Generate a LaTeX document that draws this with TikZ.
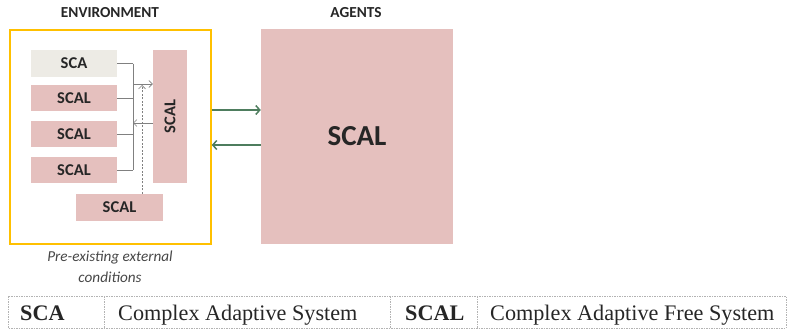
\documentclass[tikz,border=0pt]{standalone}
\usepackage{fontspec}
\setmainfont{Liberation Serif}
\newfontfamily\carlitofont{Carlito}
\usetikzlibrary{arrows.meta}
\definecolor{pinkfill}{RGB}{229,192,190}
\definecolor{scafill}{RGB}{237,235,229}
\definecolor{envyellow}{RGB}{255,192,0}
\definecolor{arrgreen}{RGB}{78,125,94}
\definecolor{linegray}{RGB}{128,128,128}
\definecolor{txt}{RGB}{38,38,38}
\tikzset{
  box/.style={fill=pinkfill, draw=none, inner sep=0pt, text=txt, font=\carlitofont\bfseries\fontsize{16.5}{18}\selectfont},
  head/.style={text=txt, font=\carlitofont\bfseries\fontsize{15.3}{17}\selectfont},
  note/.style={text=txt!85, font=\carlitofont\itshape\fontsize{15.2}{17}\selectfont},
  bracket/.style={draw=linegray, line width=0.9pt},
  thin/.style={draw=linegray, line width=0.6pt, -{Straight Barb[length=3.5pt,width=7pt]}},
  garrow/.style={draw=arrgreen, line width=1.5pt, -{Straight Barb[length=4pt,width=9pt]}},
  tab/.style={draw=linegray!60, line width=0.5pt, dash pattern=on 1.5pt off 1pt},
  tabtxt/.style={anchor=base west, inner sep=0pt, text=txt, font=\fontsize{22.2}{25}\selectfont}
}
\begin{document}
\begin{tikzpicture}[x=1pt,y=-1pt]
\useasboundingbox (0,0) rectangle (787,332);
% environment frame
\node[draw=envyellow, line width=1.5pt, minimum width=201pt, minimum height=214pt, inner sep=0pt] (env) at (110.5,137) {};
\node[head] (envlab) at (110,13) {ENVIRONMENT};
\node[head] (aglab) at (356,13) {AGENTS};
% boxes
\node[box, fill=scafill, minimum width=86pt, minimum height=27pt] (sca) at (74,63.5) {SCA};
\node[box, minimum width=86pt, minimum height=26pt] (s2) at (74,98) {SCAL};
\node[box, minimum width=86pt, minimum height=26pt] (s3) at (74,134) {SCAL};
\node[box, minimum width=86pt, minimum height=26pt] (s4) at (74,170) {SCAL};
\node[box, minimum width=34pt, minimum height=133pt] (vs) at (170,116.5) {};
\node[box, rotate=90] (vstxt) at (vs.center) {SCAL};
\node[box, minimum width=87pt, minimum height=27pt] (bot) at (119.5,207.5) {SCAL};
\node[box, minimum width=192pt, minimum height=215pt, font=\carlitofont\bfseries\fontsize{29}{32}\selectfont] (ag) at (357,136.5) {SCAL};
% bracket
\coordinate (bx) at (133,0);
\draw[bracket] (sca.east) -- (sca.east -| bx);
\draw[bracket] (s2.east) -- (s2.east -| bx);
\draw[bracket] (s3.east) -- (s3.east -| bx);
\draw[bracket] (s4.east) -- (s4.east -| bx);
\draw[bracket] (sca.east -| bx) -- (s4.east -| bx);
\coordinate (a1) at (133,84);
\coordinate (a2) at (153,123);
\draw[thin] (a1) -- (a1 -| vs.west);
\draw[thin] (a2) -- (a2 -| bx);
\coordinate (dtop) at (142,85);
\draw[thin, dash pattern=on 2pt off 1.5pt] (dtop |- bot.north) -- (dtop);
% green arrows
\coordinate (g1) at (0,110);
\coordinate (g2) at (0,145);
\draw[garrow] (g1 -| env.east) -- (g1 -| ag.west);
\draw[garrow] (g2 -| ag.west) -- (g2 -| env.east);
% note
\node[note] (n1) at (110,258) {Pre-existing external};
\node[note] (n2) at (110,277) {conditions};
% table
\draw[tab] (8,296) rectangle (786,328);
\draw[tab] (104,296) -- (104,328);
\draw[tab] (390,296) -- (390,328);
\draw[tab] (477,296) -- (477,328);
\node[tabtxt, font=\bfseries\fontsize{22.2}{25}\selectfont] (t1) at (20,320) {SCA};
\node[tabtxt] (t2) at (118,320) {Complex Adaptive System};
\node[tabtxt, font=\bfseries\fontsize{22.2}{25}\selectfont] (t3) at (405,320) {SCAL};
\node[tabtxt] (t4) at (490,320) {Complex Adaptive Free System};
\end{tikzpicture}
\end{document}
